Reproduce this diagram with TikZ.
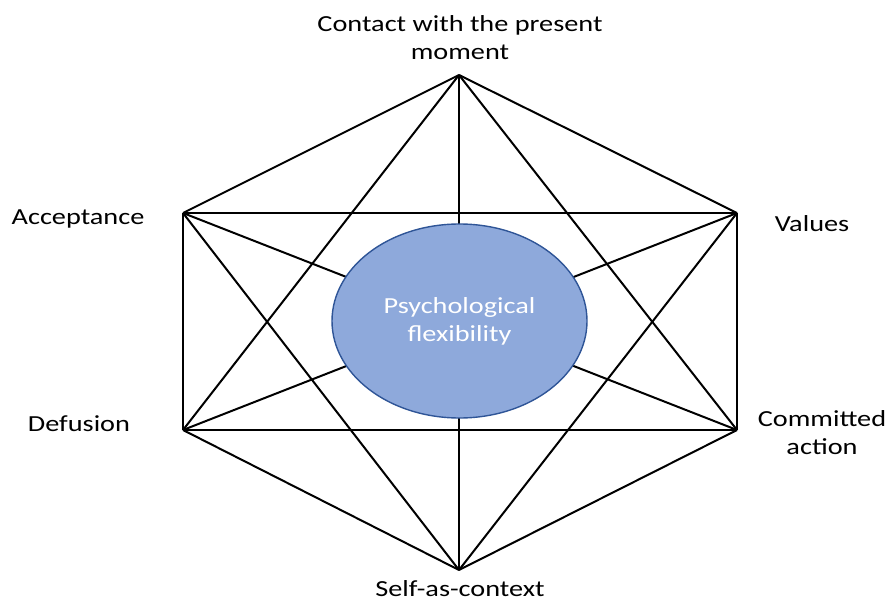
\documentclass[tikz,border=0pt]{standalone}
\usepackage{fontspec}
\setmainfont{Carlito}[FakeStretch=1.23]
\usetikzlibrary{shapes.geometric}
\definecolor{coreFill}{HTML}{8EA9DB}
\definecolor{coreEdge}{HTML}{2F5597}
\begin{document}
\begin{tikzpicture}[x=1pt,y=-1pt,
  edge/.style={draw=black,line width=2pt},
  lbl/.style={font=\fontsize{23}{28}\selectfont,align=center,text=black},
  core/.style={ellipse,draw=coreEdge,line width=1.4pt,fill=coreFill,
    minimum width=255pt,minimum height=194pt,inner sep=0pt,
    font=\fontsize{23}{28}\selectfont,text=white,align=center}]
\useasboundingbox (0,0) rectangle (890,601);
% hexagon corners
\coordinate (T) at (459,75);
\coordinate (UL) at (183,213);
\coordinate (UR) at (737,213);
\coordinate (LL) at (183,430);
\coordinate (LR) at (737,430);
\coordinate (B) at (459,570);
% every pair of corners is joined
\foreach \a/\b in {T/UL,T/UR,T/LL,T/LR,T/B,
                   UL/UR,UL/LL,UL/LR,UL/B,
                   UR/LL,UR/LR,UR/B,
                   LL/LR,LL/B,LR/B}
  \draw[edge] (\a) -- (\b);
% central ellipse
\node[core] (pf) at (459.5,321) {Psychological\\flexibility};
% labels
\node[lbl] (lt) at (460,38) {Contact with the present\\moment};
\node[lbl] (la) at (78,219) {Acceptance};
\node[lbl] (lv) at (812,224) {Values};
\node[lbl] (ld) at (79,424) {Defusion};
\node[lbl] (lc) at (822,433) {Committed\\action};
\node[lbl] (ls) at (460,589) {Self-as-context};
\end{tikzpicture}
\end{document}
